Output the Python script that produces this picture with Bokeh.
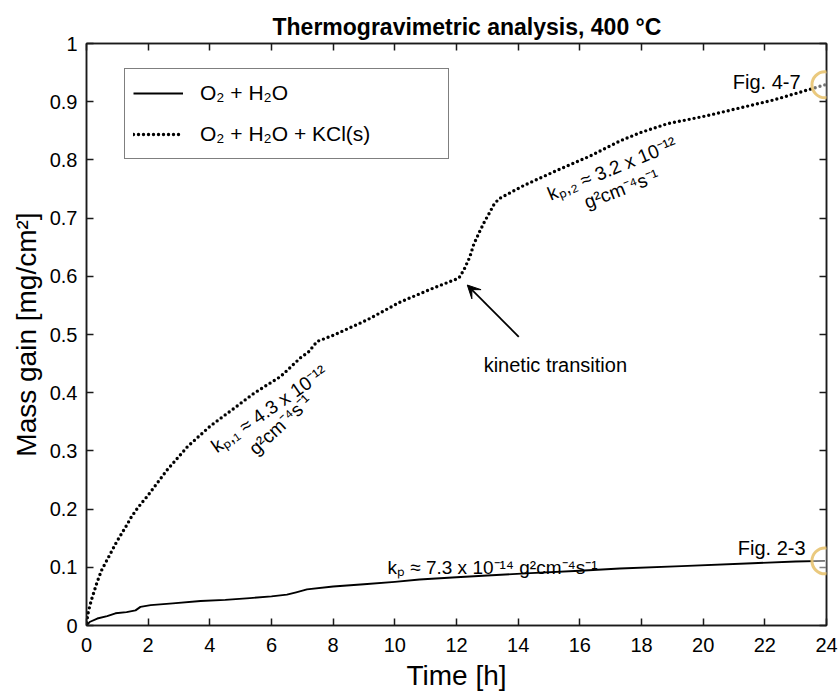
from bokeh.plotting import figure
from bokeh.models import (Range1d, LinearAxis, FixedTicker, Legend, LegendItem,
                          Label, Arrow, VeeHead, BoxAnnotation)
from bokeh.embed import file_html
from bokeh.resources import INLINE

# ---------------- data ----------------
time_o2h2o = [0.0, 0.1, 0.35, 0.67, 0.94, 1.3, 1.59, 1.75, 2.08, 2.8, 3.7, 4.5, 5.3, 6.0,
              6.5, 6.8, 7.15, 8.0, 9.0, 10.0, 10.8, 12.0, 13.0, 14.4, 16.0, 17.3, 19.3,
              21.6, 23.0, 23.95]
mass_o2h2o = [0.0, 0.006, 0.012, 0.016, 0.021, 0.023, 0.026, 0.032, 0.035, 0.038, 0.042,
              0.044, 0.047, 0.050, 0.053, 0.057, 0.062, 0.067, 0.071, 0.075, 0.079, 0.083,
              0.086, 0.090, 0.094, 0.098, 0.102, 0.107, 0.110, 0.111]

time_kcl = [0.0, 0.065, 0.16, 0.34, 0.49, 0.65, 0.81, 0.97, 1.14, 1.30, 1.46, 1.62, 1.78,
            1.97, 2.61, 3.27, 4.02, 4.78, 5.43, 6.3, 6.94, 7.2, 7.48, 8.02, 9.1, 10.18,
            11.26, 12.08, 12.24, 12.43, 12.56, 12.76, 12.91, 13.08, 13.21, 13.37, 14.18,
            15.26, 16.35, 17.32, 17.97, 18.83, 20.13, 21.65, 22.29, 23.95]
mass_kcl = [0.005, 0.025, 0.044, 0.074, 0.095, 0.111, 0.127, 0.143, 0.158, 0.172, 0.187,
            0.199, 0.210, 0.222, 0.267, 0.307, 0.343, 0.373, 0.399, 0.428, 0.460, 0.470,
            0.488, 0.499, 0.525, 0.556, 0.580, 0.597, 0.611, 0.633, 0.655, 0.678, 0.694,
            0.710, 0.723, 0.733, 0.756, 0.782, 0.807, 0.833, 0.847, 0.862, 0.876, 0.895,
            0.903, 0.929]

x_ticks = [0, 2, 4, 6, 8, 10, 12, 14, 16, 18, 20, 22, 24]
x_tick_labels = ["0", "2", "4", "6", "8", "10", "12", "14", "16", "18", "20", "22", "24"]
y_ticks = [0, 0.1, 0.2, 0.3, 0.4, 0.5, 0.6, 0.7, 0.8, 0.9, 1]
y_tick_labels = ["0", "0.1", "0.2", "0.3", "0.4", "0.5", "0.6", "0.7", "0.8", "0.9", "1"]

series_labels = ["O\u2082 + H\u2082O", "O\u2082 + H\u2082O + KCl(s)"]

title_text = "Thermogravimetric analysis,  400 \u00b0C"
x_label = "Time [h]"
y_label = "Mass gain [mg/cm\u00b2]"

kp_text = "k\u209a \u2248 7.3 x 10\u207b\u00b9\u2074 g\u00b2cm\u207b\u2074s\u207b\u00b9"
kp1_line1 = "k\u209a,\u2081 \u2248 4.3 x 10\u207b\u00b9\u00b2"
kp1_line2 = "g\u00b2cm\u207b\u2074s\u207b\u00b9"
kp2_line1 = "k\u209a,\u2082 \u2248 3.2 x 10\u207b\u00b9\u00b2"
kp2_line2 = "g\u00b2cm\u207b\u2074s\u207b\u00b9"
transition_text = "kinetic transition"
fig_labels = ["Fig. 2-3", "Fig. 4-7"]

# annotation anchors (data coordinates)
kp_pos = (9.76, 0.0994)
kp1_pos1 = (5.92, 0.372)
kp1_pos2 = (6.29, 0.345)
kp2_pos1 = (17.04, 0.785)
kp2_pos2 = (17.35, 0.750)
arrow_tail = (14.02, 0.496)
arrow_head = (12.35, 0.585)
transition_pos = (12.88, 0.4475)
fig23_pos = (23.32, 0.133)
fig47_pos = (23.16, 0.933)

FONT = "Liberation Sans"
AX = "#1a1a1a"

p = figure(width=838, height=693, x_range=Range1d(0, 24), y_range=Range1d(0, 1),
           output_backend="svg", toolbar_location=None,
           min_border_left=86, min_border_right=12, min_border_top=43, min_border_bottom=67)
p.background_fill_color = "white"
p.border_fill_color = "white"
p.xgrid.visible = False
p.ygrid.visible = False
p.outline_line_color = AX
p.outline_line_width = 1.5

p.title.text = title_text
p.title.align = "left"
p.title.offset = 186
p.title.text_font = FONT
p.title.text_font_size = "23px"
p.title.text_font_style = "bold"
p.title.text_color = "black"
p.title.standoff = 8


def style_axis(ax, ticks, labels, show_labels):
    ax.ticker = FixedTicker(ticks=ticks)
    ax.major_tick_in = 7
    ax.major_tick_out = 0
    ax.minor_tick_in = 0
    ax.minor_tick_out = 0
    ax.major_tick_line_width = 1.5
    ax.major_tick_line_color = AX
    ax.axis_line_width = 1.5
    ax.axis_line_color = AX
    ax.major_label_text_font = FONT
    if show_labels:
        ax.major_label_overrides = {t: l for t, l in zip(ticks, labels)}
        ax.major_label_text_font_size = "20px"
        ax.major_label_text_color = "black"
    else:
        ax.major_label_text_font_size = "1px"
        ax.major_label_text_color = None
        ax.major_label_standoff = 0


xa = p.xaxis[0]
style_axis(xa, x_ticks, x_tick_labels, True)
xa.major_label_standoff = 12
xa.axis_label = x_label
xa.axis_label_text_font = FONT
xa.axis_label_text_font_size = "28px"
xa.axis_label_text_font_style = "normal"
xa.axis_label_text_color = "black"
xa.axis_label_standoff = 5

ya = p.yaxis[0]
style_axis(ya, y_ticks, y_tick_labels, True)
ya.major_label_standoff = 9
ya.axis_label = y_label
ya.axis_label_text_font = FONT
ya.axis_label_text_font_size = "28px"
ya.axis_label_text_font_style = "normal"
ya.axis_label_text_color = "black"
ya.axis_label_standoff = 5

top = LinearAxis()
style_axis(top, x_ticks, x_tick_labels, False)
p.add_layout(top, "above")
right = LinearAxis()
style_axis(right, y_ticks, y_tick_labels, False)
p.add_layout(right, "right")

r1 = p.line(time_o2h2o, mass_o2h2o, line_color="black", line_width=1.9, line_join="round")
r2 = p.line(time_kcl, mass_kcl, line_color="black", line_width=3.4, line_dash="0 5",
            line_cap="round", line_join="round")

legend = Legend(items=[LegendItem(label=series_labels[0], renderers=[r1]),
                       LegendItem(label=series_labels[1], renderers=[r2])],
                location=(38, 466), margin=0, padding=8, spacing=9,
                glyph_width=50, glyph_height=32, label_height=32, label_width=240,
                label_standoff=17, label_text_font=FONT, label_text_font_size="21px",
                label_text_color="black", border_line_color="black", border_line_width=1.5,
                background_fill_color="white", background_fill_alpha=1)
p.add_layout(legend)

lbl_kw = dict(text_font=FONT, text_color="black")
p.add_layout(Label(x=kp_pos[0], y=kp_pos[1], text=kp_text, text_font_size="19px",
                   text_align="left", text_baseline="alphabetic", **lbl_kw))
p.add_layout(Label(x=kp1_pos1[0], y=kp1_pos1[1], text=kp1_line1, text_font_size="19px",
                   text_align="center", text_baseline="middle", angle=0.611, **lbl_kw))
p.add_layout(Label(x=kp1_pos2[0], y=kp1_pos2[1], text=kp1_line2, text_font_size="19px",
                   text_align="center", text_baseline="middle", angle=0.75, **lbl_kw))
p.add_layout(Label(x=kp2_pos1[0], y=kp2_pos1[1], text=kp2_line1, text_font_size="19px",
                   text_align="center", text_baseline="middle", angle=0.39, **lbl_kw))
p.add_layout(Label(x=kp2_pos2[0], y=kp2_pos2[1], text=kp2_line2, text_font_size="19px",
                   text_align="center", text_baseline="middle", angle=0.367, **lbl_kw))
p.add_layout(Label(x=transition_pos[0], y=transition_pos[1], text=transition_text,
                   text_font_size="20px", text_align="left", text_baseline="alphabetic",
                   **lbl_kw))
p.add_layout(Label(x=fig23_pos[0], y=fig23_pos[1], text=fig_labels[0], text_font_size="20px",
                   text_align="right", text_baseline="alphabetic", **lbl_kw))
p.add_layout(Label(x=fig47_pos[0], y=fig47_pos[1], text=fig_labels[1], text_font_size="20px",
                   text_align="right", text_baseline="alphabetic", **lbl_kw))

p.add_layout(Arrow(end=VeeHead(size=13, fill_color="black", line_color="black"),
                   x_start=arrow_tail[0], y_start=arrow_tail[1],
                   x_end=arrow_head[0], y_end=arrow_head[1],
                   line_color="black", line_width=1.8))

# highlight circles at the series end points
rx = 13 / 30.83
ry = 13 / 583.3
for tx, my in [(time_o2h2o[-1], mass_o2h2o[-1]), (time_kcl[-1], mass_kcl[-1])]:
    p.add_layout(BoxAnnotation(left=tx - rx, right=tx + rx, bottom=my - ry, top=my + ry,
                               border_radius=13, fill_color="white", fill_alpha=0.45,
                               line_color="#E8C370", line_width=3, line_alpha=0.9))

open("out.html", "w").write(file_html(p, INLINE))
